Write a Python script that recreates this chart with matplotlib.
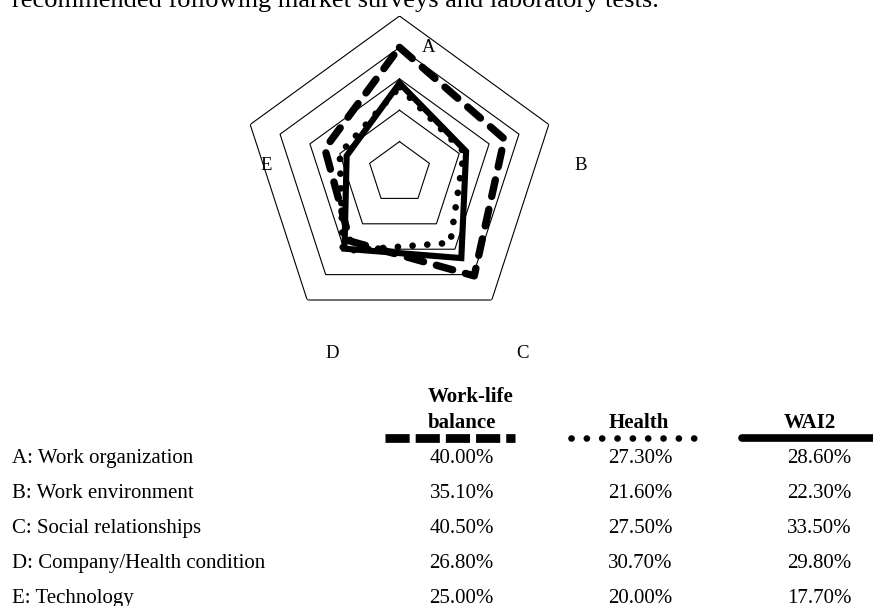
import numpy as np
import matplotlib
matplotlib.use("Agg")
import matplotlib.pyplot as plt

plt.rcParams['font.family'] = ['Liberation Serif', 'DejaVu Serif']

# radar data (percent)
categories = ['A', 'B', 'C', 'D', 'E']
row_labels = ['A: Work organization', 'B: Work environment', 'C: Social relationships',
              'D: Company/Health condition', 'E: Technology']
work_life = [40.0, 35.1, 40.5, 26.8, 25.0]
health = [27.3, 21.6, 27.5, 30.7, 20.0]
wai2 = [28.6, 22.3, 33.5, 29.8, 17.7]
rings = [10, 20, 30, 40, 50]

W, H = 873, 606
fig = plt.figure(figsize=(W / 100, H / 100), dpi=100)

# overlay axes in pixel coordinates for the text and the legend table
ov = fig.add_axes([0, 0, 1, 1])
ov.set_xlim(0, W)
ov.set_ylim(H, 0)
ov.axis('off')

# radar centred at (399.5, 173) px, outer ring radius 157 px
cx, cy, R = 399.5, 173, 157
ax = fig.add_axes([(cx - R) / W, (H - cy - R) / H, 2 * R / W, 2 * R / H], projection='polar')
ax.set_theta_zero_location('N')
ax.set_theta_direction(-1)
ax.set_ylim(0, rings[-1])
ax.grid(False)
ax.set_xticks([])
ax.set_yticks([])
ax.spines['polar'].set_visible(False)
ax.patch.set_alpha(0)

ang = np.deg2rad(np.arange(len(categories)) * 360 / len(categories))
ang_c = np.append(ang, ang[0])

def closed(v):
    return np.append(v, v[0])

for r in rings:
    ax.plot(ang_c, [r] * len(ang_c), color='black', lw=0.8)

ax.plot(ang_c, closed(work_life), color='black', lw=5.3,
        linestyle=(0, (2.3, 1.8)), dash_capstyle='round', solid_joinstyle='round')
ax.plot(ang_c, closed(health), color='black', lw=4.8,
        linestyle=(0, (0.01, 2.2)), dash_capstyle='round')
ax.plot(ang_c, closed(wai2), color='black', lw=4.4,
        solid_capstyle='round', solid_joinstyle='miter')

# axis letters
label_pos = {'A': (429, 51.5), 'B': (580.5, 170), 'C': (522.3, 358.5),
             'D': (332.7, 358.5), 'E': (266, 170)}
for c in categories:
    x, y = label_pos[c]
    ov.text(x, y, c, fontsize=13.5, ha='center', va='baseline')

# caption line above the chart
ov.text(11.5, 7, 'recommended following market surveys and laboratory tests.',
        fontsize=19, ha='left', va='baseline')

# table header
ov.text(471, 402, 'Work-life', fontsize=15, fontweight='bold', ha='center', va='baseline')
ov.text(462, 428.5, 'balance', fontsize=15, fontweight='bold', ha='center', va='baseline')
ov.text(639, 428.5, 'Health', fontsize=15, fontweight='bold', ha='center', va='baseline')
ov.text(810, 428.5, 'WAI2', fontsize=15, fontweight='bold', ha='center', va='baseline')

# legend line samples
ov.plot([385, 515], [438.3, 438.3], color='black', lw=6.3,
        linestyle=(0, (2.76, 0.69)), dash_capstyle='butt')
ov.plot([570.7, 697], [438.3, 438.3], color='black', lw=4.8,
        linestyle=(0, (0.01, 2.29)), dash_capstyle='round')
ov.plot([741.7, 900], [438.3, 438.3], color='black', lw=5.5,
        solid_capstyle='round')

# table rows
col_x = [461.7, 640, 819]
row_y = np.linspace(463.3, 602.7, len(row_labels))
for i, lab in enumerate(row_labels):
    ov.text(11.5, row_y[i], lab, fontsize=15, ha='left', va='baseline')
    for x, series in zip(col_x, [work_life, health, wai2]):
        ov.text(x, row_y[i], f'{series[i]:.2f}%', fontsize=15, ha='center', va='baseline')

fig.savefig('out.png', dpi=100)
